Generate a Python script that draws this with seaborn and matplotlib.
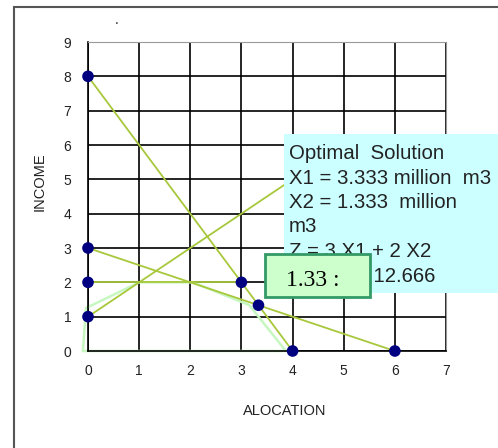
import matplotlib
matplotlib.use("Agg")
import matplotlib.pyplot as plt
from matplotlib.patches import Rectangle
import seaborn as sns
import pandas as pd

# constraint lines
c1_x = [0, 4]
c1_y = [8, 0]
c2_x = [0, 6]
c2_y = [3, 0]
c3_x = [0, 3]
c3_y = [2, 2]
c4_x = [0, 4]
c4_y = [1, 5]

# feasible region outline (hand drawn in the original)
region_x = [-0.1, -0.04, 1, 2.05, 3.15, 3.87, -0.1]
region_y = [0, 1.25, 2, 2, 1.34, 0, 0]

# corner points
pts_x = [0, 0, 0, 0, 3, 3.333, 4, 6]
pts_y = [8, 3, 2, 1, 2, 1.333, 0, 0]

box_text = ["Optimal  Solution", "X1 = 3.333 million  m3", "X2 = 1.333  million",
            "m3", "Z = 3 X1 + 2 X2"]
result_text = "= 12.666"

sns.set_style("white")
plt.rcParams['font.family'] = ['Liberation Sans', 'DejaVu Sans']

W, H = 498, 448
fig = plt.figure(figsize=(W / 100, H / 100), dpi=100)
ax = fig.add_axes([88 / W, 1 - 351 / H, (446 - 88) / W, (351 - 42) / H])

line_col = "#a8c83c"
for xs, ys in [(c1_x, c1_y), (c2_x, c2_y), (c3_x, c3_y), (c4_x, c4_y)]:
    sns.lineplot(x=xs, y=ys, ax=ax, color=line_col, lw=1.3, sort=False,
                 estimator=None, zorder=3)

reg = pd.DataFrame({"x": region_x, "y": region_y})
sns.lineplot(data=reg, x="x", y="y", ax=ax, color="#c6f7c0", lw=1.8,
             sort=False, estimator=None, zorder=2.5)
for ln in ax.lines:
    ln.set_clip_on(False)

sns.scatterplot(x=pts_x, y=pts_y, ax=ax, color="#000080", s=70,
                edgecolor="none", zorder=5, clip_on=False)

ax.set_xlim(0, 7)
ax.set_ylim(0, 9)
ax.set_xticks(range(0, 8))
ax.set_yticks(range(0, 10))
ax.grid(True, color="black", lw=1.2)
ax.set_axisbelow(True)
for s in ["top", "right"]:
    ax.spines[s].set_color("#999999")
for s in ["left", "bottom"]:
    ax.spines[s].set_color("black")
    ax.spines[s].set_linewidth(1.2)
ax.tick_params(axis="both", which="major", direction="out", length=5,
               width=1, color="black", labelsize=10, labelcolor="#222222")
ax.tick_params(axis="y", pad=7)
ax.tick_params(axis="x", pad=4)
ax.set_xlabel("")
ax.set_ylabel("")

fig.text(285 / W, 1 - 411 / H, "ALOCATION", ha="center", va="center",
         fontsize=10.5, color="#222222")
fig.text(40 / W, 1 - 182 / H, "INCOME", ha="center", va="center",
         rotation=90, fontsize=10.5, color="#222222")
fig.text(117 / W, 1 - 20 / H, ".", ha="center", va="center", fontsize=10)

# outer frame
fig.patches.append(Rectangle((14 / W, -0.1), 1.2, 1.1 - 7 / H, transform=fig.transFigure,
                             fill=False, edgecolor="#555555", lw=1.5))

# optimal solution box
fig.patches.append(Rectangle((284 / W, 1 - 293 / H), (W - 284) / W + 0.01, 159 / H,
                             transform=fig.transFigure, facecolor="#ccffff",
                             edgecolor="none", zorder=6))
baselines = [159, 184, 208, 232, 257]
for txt, yb in zip(box_text, baselines):
    fig.text(289 / W, 1 - yb / H, txt, ha="left", va="baseline",
             fontsize=14.7, color="#222222", zorder=7)
# result line sits in its own cyan strip that overlaps the line above
fig.patches.append(Rectangle((284 / W, 1 - 293 / H), (W - 284) / W + 0.01, 35 / H,
                             transform=fig.transFigure, facecolor="#ccffff",
                             edgecolor="none", zorder=7.5))
fig.text(356 / W, 1 - 282 / H, result_text, ha="left", va="baseline",
         fontsize=14.7, color="#222222", zorder=7.6)

# green label box
fig.patches.append(Rectangle((265 / W, 1 - 297 / H), 105 / W, 43 / H,
                             transform=fig.transFigure, facecolor="#ccffcc",
                             edgecolor="#339966", lw=2, zorder=8))
fig.text(286 / W, 1 - 286 / H, "1.33 :", ha="left", va="baseline",
         fontsize=17, family=["Liberation Serif"], color="black", zorder=9)

fig.savefig("out.png", dpi=100)
